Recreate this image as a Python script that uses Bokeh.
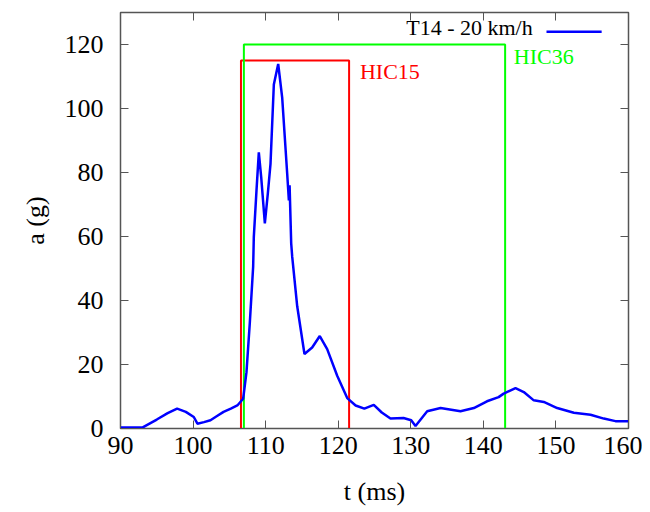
from bokeh.plotting import figure
from bokeh.models import LinearAxis, Range1d, FixedTicker, Label
from bokeh.embed import file_html
from bokeh.resources import INLINE

# ---- data ----
t_ms = [90, 93, 95, 96.5, 97.8, 99, 100.1, 100.6, 101.5, 102.4, 103.3, 104.2, 105.2, 106.1,
        106.9, 107.36, 107.82, 108.28, 108.37, 108.74, 109.06, 109.39, 109.89, 110.3, 110.67,
        111.13, 111.73, 112.28, 112.97, 113.2, 113.3, 113.52, 113.66, 114.35, 115.35, 116.41,
        117.46, 118.48, 119.86, 121.24, 122.4, 123.6, 124.9, 126.0, 127.2, 129.0, 130.06,
        130.65, 132.26, 134.1, 136.85, 138.69, 140.5, 142.1, 142.8, 144.43, 145.57, 146.95,
        148.33, 150.17, 152.47, 154.77, 156.6, 158.2, 160]
a_g = [0.3, 0.3, 2.8, 4.8, 6.2, 5.2, 3.6, 1.5, 2.0, 2.6, 3.9, 5.2, 6.2, 7.2,
       9.3, 17.6, 33.1, 50.6, 59.9, 74.4, 86.3, 78.5, 64.1, 73.4, 82.7,
       107.5, 113.9, 103.4, 79.6, 71.3, 76.0, 57.9, 53.7, 38.2, 23.3, 25.3,
       28.9, 24.8, 16.5, 9.5, 7.2, 6.2, 7.4, 5.0, 3.1, 3.3, 2.6,
       0.8, 5.4, 6.4, 5.4, 6.4, 8.5, 9.8, 10.9, 12.6, 11.4, 8.8,
       8.3, 6.4, 4.9, 4.3, 3.1, 2.3, 2.3]

hic15_window = [106.6, 121.5]
hic15_top = 115
hic36_window = [107.0, 143.0]
hic36_top = 120

x_ticks = [90, 100, 110, 120, 130, 140, 150, 160]
y_ticks = [0, 20, 40, 60, 80, 100, 120]

series_label = "T14 - 20 km/h"

FONT = "Liberation Serif"
FRAME = "#555555"

p = figure(width=642, height=508, output_backend="svg", toolbar_location=None,
           x_range=Range1d(90, 160), y_range=Range1d(0, 130),
           min_border_left=120, min_border_right=14, min_border_top=12, min_border_bottom=78)
p.grid.visible = False
p.outline_line_color = FRAME
p.outline_line_width = 1.5

def style_axis(ax, ticks, show_labels):
    ax.ticker = FixedTicker(ticks=ticks)
    ax.major_tick_in = 8
    ax.major_tick_out = 0
    ax.minor_tick_line_color = None
    ax.major_tick_line_color = FRAME
    ax.axis_line_color = FRAME
    ax.major_label_text_font = FONT
    ax.major_label_text_color = "black"
    ax.axis_label_text_font = FONT
    ax.axis_label_text_color = "black"
    ax.axis_label_text_font_style = "normal"
    ax.axis_label_text_font_size = "26px"
    ax.major_label_text_font_size = "26px"
    if not show_labels:
        ax.major_label_overrides = {tk: "" for tk in ticks}
        ax.major_label_standoff = 0

style_axis(p.xaxis[0], x_ticks, True)
style_axis(p.yaxis[0], y_ticks, True)
p.xaxis[0].axis_label = "t (ms)"
p.yaxis[0].axis_label = "a (g)"
p.xaxis[0].major_label_standoff = 8
p.yaxis[0].major_label_standoff = 17
p.xaxis[0].axis_label_standoff = 20
p.yaxis[0].axis_label_standoff = 12

ax_r = LinearAxis()
style_axis(ax_r, y_ticks, False)
p.add_layout(ax_r, "right")
ax_t = LinearAxis()
style_axis(ax_t, x_ticks, False)
p.add_layout(ax_t, "above")

# HIC windows
p.line([hic15_window[0], hic15_window[0], hic15_window[1], hic15_window[1]],
       [0, hic15_top, hic15_top, 0], line_color="#ff0000", line_width=2)
p.line([hic36_window[0], hic36_window[0], hic36_window[1], hic36_window[1]],
       [0, hic36_top, hic36_top, 0], line_color="#00ff00", line_width=2)

# curve
p.line(t_ms, a_g, line_color="#0000ff", line_width=2.5)

# labels
p.add_layout(Label(x=hic15_window[1] + 1.5, y=hic15_top - 3.4, text="HIC15",
                   text_font=FONT, text_font_size="22px", text_color="#ff0000",
                   text_baseline="middle"))
p.add_layout(Label(x=hic36_window[1] + 1.2, y=hic36_top - 3.7, text="HIC36",
                   text_font=FONT, text_font_size="22px", text_color="#00ff00",
                   text_baseline="middle"))

# key
p.add_layout(Label(x=146.8, y=125.4, text=series_label, text_font=FONT,
                   text_font_size="22px", text_color="black", text_align="right",
                   text_baseline="middle"))
p.line([148.7, 156.3], [124.0, 124.0], line_color="#0000ff", line_width=2.5)

open("out.html", "w").write(file_html(p, INLINE))
